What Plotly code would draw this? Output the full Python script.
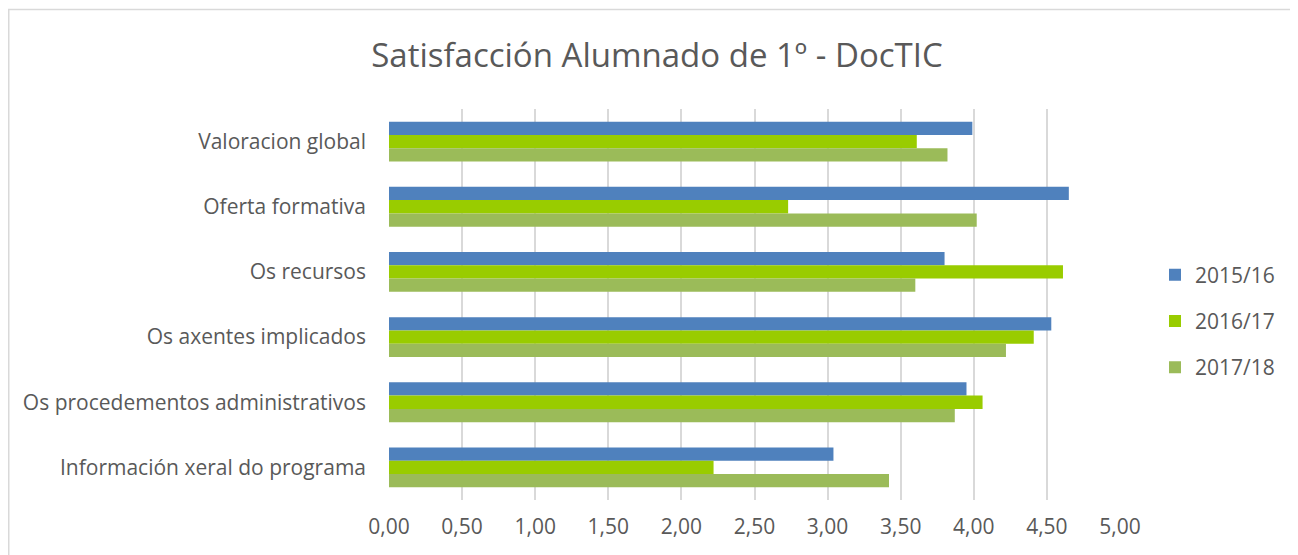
import plotly.graph_objects as go

categories = [
    "Valoracion global",
    "Oferta formativa",
    "Os recursos",
    "Os axentes implicados",
    "Os procedementos administrativos",
    "Información xeral do programa",
]
series_names = ["2015/16", "2016/17", "2017/18"]
v_2015_16 = [3.99, 4.65, 3.80, 4.53, 3.95, 3.04]
v_2016_17 = [3.61, 2.73, 4.61, 4.41, 4.06, 2.22]
v_2017_18 = [3.82, 4.02, 3.60, 4.22, 3.87, 3.42]
x_ticks = [0, 0.5, 1, 1.5, 2, 2.5, 3, 3.5, 4, 4.5, 5]
colors = ["#4F81BD", "#99CC00", "#9BBB59"]

# page body has an 8px margin, so work in page coords shifted by 8
OFF = 8
W, H = 1298 - OFF, 555 - OFF
L, R, T, B = 389 - OFF, 1120 - OFF, 109 - OFF, 500 - OFF
pw, ph = R - L, B - T

fig = go.Figure()
for i, (name, vals) in enumerate(zip(series_names, [v_2015_16, v_2016_17, v_2017_18])):
    fig.add_trace(go.Bar(
        y=categories, x=vals, name=name, orientation="h",
        marker=dict(color=colors[i], line=dict(width=0)),
        legendgroup=name, legendrank=i + 1,
    ))

text_color = "#595959"
font_family = "Open Sans"

fig.update_layout(
    width=W, height=H,
    margin=dict(l=L, r=W - R, t=T, b=H - B, autoexpand=False),
    paper_bgcolor="white", plot_bgcolor="white",
    separators=",.",
    barmode="group", bargap=0.39, bargroupgap=0,
    font=dict(family=font_family, color=text_color, size=21),
    title=dict(
        text="Satisfacción Alumnado de 1º - DocTIC",
        font=dict(size=33, color=text_color, family=font_family),
        x=(657 - OFF - L) / pw, xref="paper", xanchor="center",
        y=1 - (55 - OFF) / H, yref="container", yanchor="middle",
    ),
    xaxis=dict(
        range=[0, 5], tickvals=x_ticks, tickformat=".2f",
        showgrid=True, gridcolor="#d9d9d9", gridwidth=1.5,
        zeroline=False, showline=False, ticks="",
        tickfont=dict(size=21, color=text_color),
        ticklabelstandoff=12, fixedrange=True,
    ),
    yaxis=dict(
        autorange="reversed", showgrid=False, zeroline=False, showline=False,
        ticks="", tickfont=dict(size=21, color=text_color),
        ticklabelstandoff=22, fixedrange=True,
    ),
    legend=dict(
        x=(1155 - OFF - L) / pw, xanchor="left", y=(B - (321 - OFF)) / ph, yanchor="middle",
        traceorder="grouped", tracegroupgap=16,
        font=dict(size=21, color=text_color), bgcolor="rgba(0,0,0,0)",
    ),
    showlegend=True,
)

fig.add_shape(
    type="rect", xref="paper", yref="paper",
    x0=(8 - OFF - L + 0.75) / pw, x1=(1310 - OFF - L) / pw,
    y0=(B - (9.5 - OFF)) / ph, y1=(B - 570) / ph,
    line=dict(color="#d9d9d9", width=1.5), fillcolor="rgba(0,0,0,0)", layer="below",
)

fig.write_html("out.html")
